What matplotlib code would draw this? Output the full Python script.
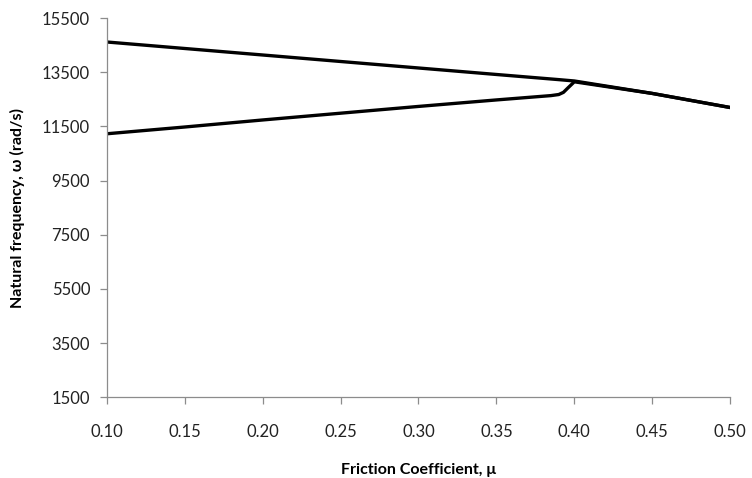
import numpy as np
import matplotlib
matplotlib.use("Agg")
import matplotlib.pyplot as plt

# friction coefficient vs natural frequency (two modes merging at mu ~ 0.40)
mu_upper = [0.10, 0.15, 0.20, 0.25, 0.30, 0.35, 0.39, 0.40, 0.45, 0.50]
omega_upper = [14620, 14380, 14140, 13900, 13660, 13420, 13230, 13180, 12720, 12200]

mu_lower = [0.10, 0.15, 0.20, 0.25, 0.30, 0.35, 0.385, 0.39, 0.393, 0.396, 0.40, 0.45, 0.50]
omega_lower = [11230, 11480, 11740, 11990, 12240, 12480, 12640, 12680, 12760, 12930, 13150, 12720, 12200]

xticks = [0.10, 0.15, 0.20, 0.25, 0.30, 0.35, 0.40, 0.45, 0.50]
yticks = [1500, 3500, 5500, 7500, 9500, 11500, 13500, 15500]

plt.rcParams['font.family'] = ['Lato', 'DejaVu Sans']

fig = plt.figure(figsize=(7.52, 4.78), dpi=100)
ax = fig.add_axes([0.142, 0.169, 0.829, 0.793])

ax.plot(mu_upper, omega_upper, color='black', lw=2.4, solid_joinstyle='round')
ax.plot(mu_lower, omega_lower, color='black', lw=2.4, solid_joinstyle='round')

ax.set_xlim(0.10, 0.50)
ax.set_ylim(1500, 15500)
ax.set_xticks(xticks)
ax.set_xticklabels(['%.2f' % v for v in xticks])
ax.set_yticks(yticks)
ax.set_yticklabels([str(v) for v in yticks])

for s in ['top', 'right']:
    ax.spines[s].set_visible(False)
for s in ['left', 'bottom']:
    ax.spines[s].set_color('#8c8c8c')
    ax.spines[s].set_linewidth(0.9)
ax.tick_params(direction='out', length=5, width=0.9, color='#8c8c8c',
               labelsize=12, labelcolor='#222222', pad=7)
ax.tick_params(axis='x', pad=14)

ax.set_xlabel('Friction Coefficient, \u03bc', fontsize=11.5, fontweight='bold', labelpad=17)
ax.set_ylabel('Natural frequency, \u03c9 (rad/s)', fontsize=11.5, fontweight='bold', labelpad=12)

fig.savefig('out.png', dpi=100)
